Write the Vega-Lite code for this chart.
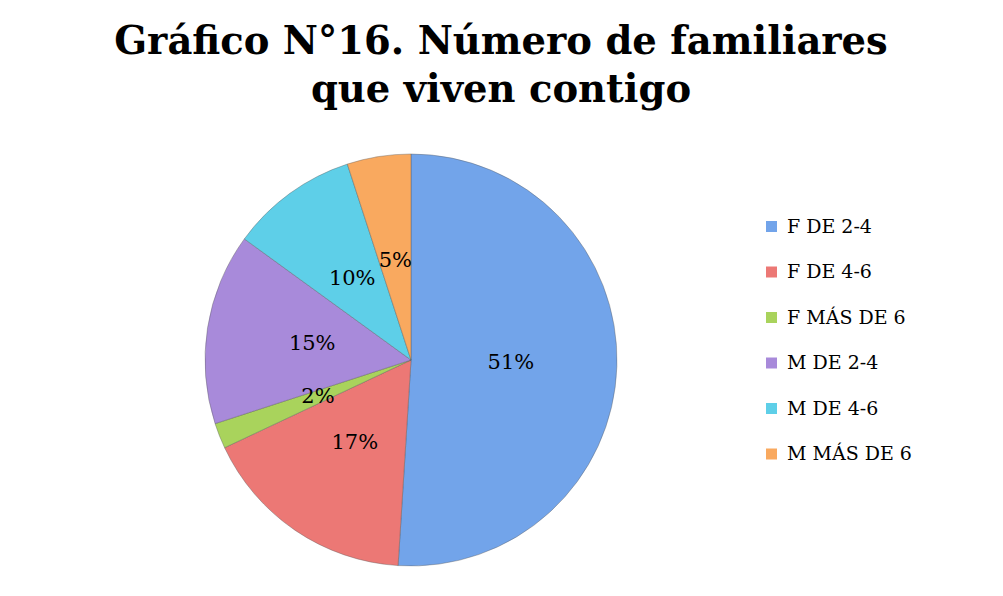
{
  "$schema": "https://vega.github.io/schema/vega-lite/v6.json",
  "width": 420,
  "height": 420,
  "autosize": "none",
  "padding": {"left": 201, "top": 150, "right": 382, "bottom": 26},
  "background": "white",
  "title": {
    "text": ["Gráfico N°16. Número de familiares", "que viven contigo"],
    "font": "DejaVu Serif",
    "fontSize": 38.5,
    "fontWeight": "bold",
    "color": "#000000",
    "anchor": "middle",
    "dx": 90,
    "lineHeight": 48,
    "offset": 40
  },
  "data": {
    "values": [
      {"categoria": "F DE 2-4", "porcentaje": 0.51},
      {"categoria": "F DE 4-6", "porcentaje": 0.17},
      {"categoria": "F MÁS DE 6", "porcentaje": 0.02},
      {"categoria": "M DE 2-4", "porcentaje": 0.15},
      {"categoria": "M DE 4-6", "porcentaje": 0.10},
      {"categoria": "M MÁS DE 6", "porcentaje": 0.05}
    ]
  },
  "encoding": {
    "theta": {"field": "porcentaje", "type": "quantitative", "stack": true},
    "order": {"field": "categoria", "type": "ordinal", "sort": "ascending"}
  },
  "layer": [
    {
      "mark": {"type": "arc", "outerRadius": 206, "stroke": "#5a5a5a", "strokeWidth": 0.4},
      "encoding": {
        "color": {
          "field": "categoria",
          "type": "nominal",
          "scale": {
            "domain": ["F DE 2-4", "F DE 4-6", "F MÁS DE 6", "M DE 2-4", "M DE 4-6", "M MÁS DE 6"],
            "range": ["#72A4EA", "#EC7875", "#A9D35C", "#A88ADA", "#5ECFE8", "#F9A95F"]
          },
          "legend": {
            "title": null,
            "orient": "none",
            "legendX": 561,
            "legendY": 67,
            "padding": 0,
            "symbolType": "square",
            "symbolSize": 121,
            "symbolStrokeWidth": 0,
            "labelFont": "DejaVu Serif",
            "labelFontSize": 19,
            "labelColor": "#000000",
            "labelOffset": 6,
            "rowPadding": 25.5,
            "labelLimit": 300
          }
        }
      }
    },
    {
      "mark": {"type": "text", "radius": 100, "font": "DejaVu Serif", "fontSize": 21, "color": "#000000"},
      "encoding": {
        "text": {"field": "porcentaje", "type": "quantitative", "format": ".0%"},
        "detail": {"field": "categoria", "type": "nominal"}
      }
    }
  ]
}
